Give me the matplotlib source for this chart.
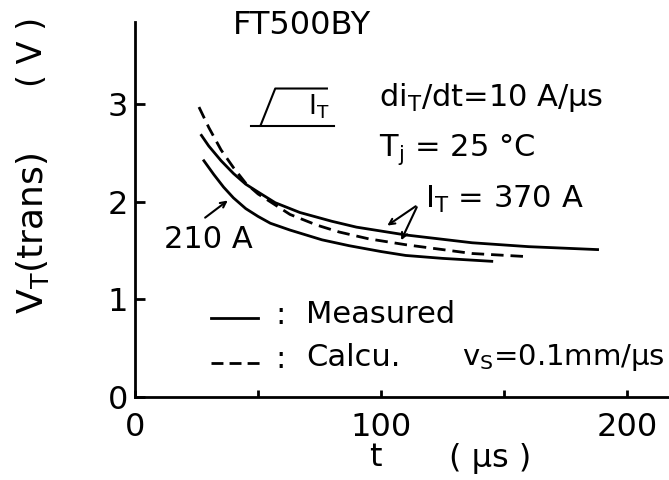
import numpy as np
import matplotlib.pyplot as plt

# Переходное напряжение V_T(trans) в зависимости от времени t, FT500BY
# 370 A, измерение
t_370_meas = [27, 30, 35, 40, 45, 50, 57, 67, 80, 90, 110, 137, 160, 188]
v_370_meas = [2.68, 2.57, 2.42, 2.29, 2.18, 2.10, 1.99, 1.89, 1.80, 1.74, 1.66, 1.58, 1.54, 1.51]
# 210 A, измерение
t_210_meas = [28, 32, 36, 40, 45, 50, 55, 63, 76, 87, 100, 110, 125, 145]
v_210_meas = [2.42, 2.28, 2.15, 2.04, 1.93, 1.85, 1.78, 1.71, 1.61, 1.55, 1.49, 1.45, 1.42, 1.39]
# 370 A, расчёт
t_370_calc = [26, 30, 35, 40, 45, 50, 55, 63, 74, 83, 95, 110, 137, 158]
v_370_calc = [2.97, 2.76, 2.53, 2.35, 2.19, 2.08, 2.00, 1.87, 1.76, 1.69, 1.62, 1.56, 1.47, 1.44]

x_ticks = [0, 50, 100, 150, 200]
x_ticklabels = ['0', '', '100', '', '200']
y_ticks = [0, 1, 2, 3]

plt.rcParams['font.family'] = 'DejaVu Sans'
fig = plt.figure(figsize=(6.69, 4.8), dpi=100)
ax = fig.add_axes([0.2018, 0.1729, 0.797, 0.781])

lw = 2.0
ax.plot(t_370_meas, v_370_meas, color='black', lw=lw)
ax.plot(t_210_meas, v_210_meas, color='black', lw=lw)
ax.plot(t_370_calc, v_370_calc, color='black', lw=lw, dashes=(4.5, 2.5))

ax.set_xlim(0, 216.7)
ax.set_ylim(0, 3.84)
ax.spines['top'].set_visible(False)
ax.spines['right'].set_visible(False)
ax.spines['left'].set_linewidth(2)
ax.spines['bottom'].set_linewidth(2)
ax.set_xticks(x_ticks)
ax.set_xticklabels(x_ticklabels)
ax.set_yticks(y_ticks)
ax.tick_params(axis='y', direction='in', length=7, width=2, pad=5, labelsize=23)
ax.tick_params(axis='x', direction='in', length=5, width=2, pad=11, labelsize=23)

# подписи
ax.text(68, 3.81, 'FT500BY', fontsize=23, ha='center', va='center')
ax.text(99, 3.07, r'di$_\mathrm{T}$/dt=10 A/µs', fontsize=22, ha='left', va='center')
ax.text(99, 2.53, r'T$_\mathrm{j}$ = 25 °C', fontsize=22, ha='left', va='center')
ax.text(118, 2.02, r'I$_\mathrm{T}$ = 370 A', fontsize=22, ha='left', va='center')
ax.text(30, 1.61, '210 A', fontsize=22, ha='center', va='center')

# значок фронта тока
ax.plot([47, 81], [2.78, 2.78], color='black', lw=1.5)
ax.plot([51, 57, 78], [2.78, 3.16, 3.16], color='black', lw=1.5)
ax.text(70.5, 2.97, r'I$_\mathrm{T}$', fontsize=19, ha='left', va='center')

# стрелки
arrow = dict(arrowstyle='->', color='black', lw=1.5)
ax.annotate('', xy=(38.6, 2.03), xytext=(27.6, 1.82), arrowprops=arrow)
ax.annotate('', xy=(101.6, 1.74), xytext=(115, 1.97), arrowprops=arrow)
ax.annotate('', xy=(107.7, 1.58), xytext=(115, 1.97), arrowprops=arrow)

# легенда
ax.plot([31, 50], [0.81, 0.81], color='black', lw=lw)
ax.plot([31, 50.6], [0.35, 0.35], color='black', lw=lw, dashes=(4.3, 2.2))
ax.text(59, 0.84, ':', fontsize=22, ha='center', va='center')
ax.text(59, 0.38, ':', fontsize=22, ha='center', va='center')
ax.text(69.5, 0.85, 'Measured', fontsize=22, ha='left', va='center')
ax.text(69.5, 0.40, 'Calcu.', fontsize=22, ha='left', va='center')
ax.text(133, 0.40, r'v$_\mathrm{S}$=0.1mm/µs', fontsize=21, ha='left', va='center')

# подписи осей
fig.text(0.048, 1 - 233 / 480, r'V$_\mathrm{T}$(trans)', fontsize=26, rotation=90, ha='center', va='center')
fig.text(0.048, 1 - 52 / 480, '( V )', fontsize=24, rotation=90, ha='center', va='center')
fig.text(375 / 669, 1 - 458 / 480, 't', fontsize=23, ha='center', va='center')
fig.text(490 / 669, 1 - 458 / 480, '( µs )', fontsize=23, ha='center', va='center')

fig.savefig('out.png', dpi=100)
